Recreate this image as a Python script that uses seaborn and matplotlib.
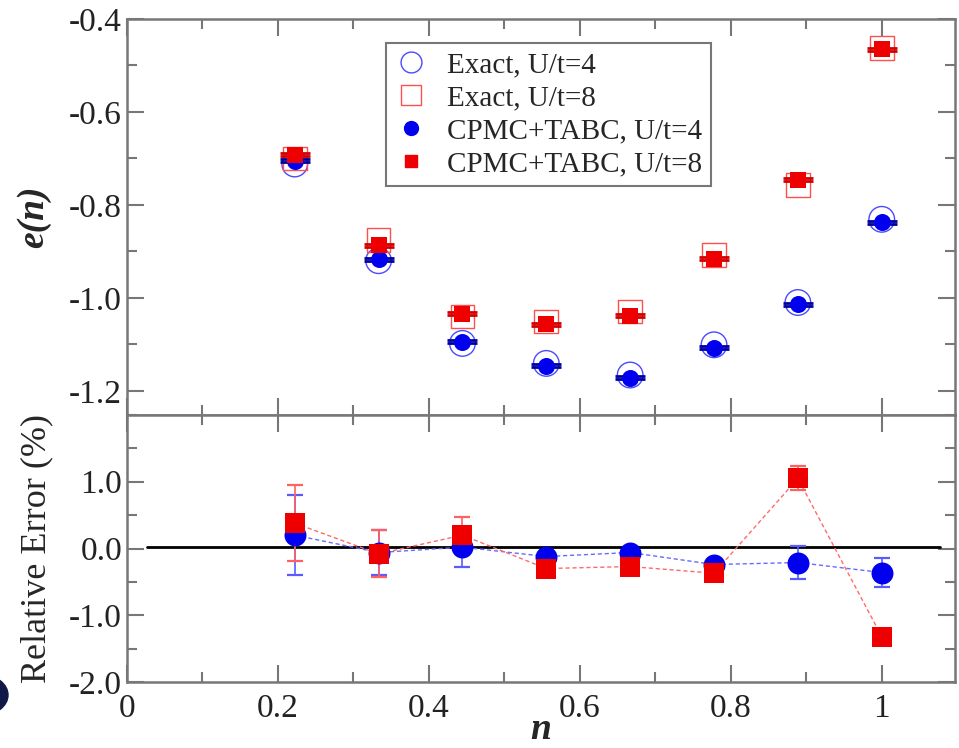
import numpy as np
import pandas as pd
import matplotlib
matplotlib.use("Agg")
import matplotlib.pyplot as plt
from matplotlib.lines import Line2D
from matplotlib.patches import Ellipse
from matplotlib.ticker import MultipleLocator
import seaborn as sns

# filling n = N/9
n = [2 / 9, 3 / 9, 4 / 9, 5 / 9, 6 / 9, 7 / 9, 8 / 9, 1.0]

# energies per site
exact_u4 = [-0.712, -0.920, -1.098, -1.141, -1.166, -1.101, -1.010, -0.831]
exact_u8 = [-0.700, -0.876, -1.040, -1.051, -1.029, -0.908, -0.757, -0.462]
cpmc_u4 = [-0.705, -0.917, -1.094, -1.146, -1.172, -1.107, -1.014, -0.837]
cpmc_u8 = [-0.692, -0.887, -1.034, -1.057, -1.038, -0.916, -0.746, -0.465]
cpmc_u4_err = [0.003, 0.003, 0.003, 0.003, 0.003, 0.003, 0.003, 0.003]
cpmc_u8_err = [0.003, 0.003, 0.003, 0.003, 0.003, 0.003, 0.003, 0.003]

# relative error (%)
rel_u4 = [0.20, -0.06, 0.02, -0.12, -0.06, -0.24, -0.21, -0.36]
rel_u4_err = [0.60, 0.34, 0.30, 0.06, 0.06, 0.06, 0.25, 0.22]
rel_u8 = [0.38, -0.08, 0.20, -0.30, -0.27, -0.37, 1.05, -1.32]
rel_u8_err = [0.57, 0.35, 0.27, 0.04, 0.04, 0.05, 0.18, 0.03]

top = pd.DataFrame({"n": n, "ex4": exact_u4, "ex8": exact_u8, "c4": cpmc_u4, "c8": cpmc_u8})
bot = pd.DataFrame({"n": n, "r4": rel_u4, "r8": rel_u8})

sns.set_theme(style="ticks")
plt.rcParams['font.family'] = ['Liberation Serif', 'DejaVu Serif']
plt.rcParams['axes.unicode_minus'] = False

BLUE = "#0000ee"
RED = "#ee0000"
SPINE = "#777777"

fig = plt.figure(figsize=(9.59, 7.48), dpi=100)
ax1 = fig.add_axes([0.1324, 0.4452, 0.8634, 0.5294])
ax2 = fig.add_axes([0.1324, 0.0882, 0.8634, 0.3570], sharex=ax1)

# ---- top panel ----
sns.scatterplot(data=top, x="n", y="ex4", ax=ax1, marker="o", s=340,
                facecolor="none", edgecolor="#4a4aff", linewidth=1.0, zorder=3)
sns.scatterplot(data=top, x="n", y="ex8", ax=ax1, marker="s", s=290,
                facecolor="none", edgecolor="#ff5050", linewidth=1.0, zorder=3)
ax1.errorbar(n, cpmc_u4, yerr=cpmc_u4_err, fmt="none", ecolor="#0000a0",
             elinewidth=1.5, capsize=11, capthick=2.0, zorder=4)
ax1.errorbar(n, cpmc_u8, yerr=cpmc_u8_err, fmt="none", ecolor="#d00000",
             elinewidth=1.5, capsize=11, capthick=2.0, zorder=4)
sns.scatterplot(data=top, x="n", y="c4", ax=ax1, marker="o", s=150,
                color=BLUE, edgecolor=BLUE, linewidth=0, zorder=5)
sns.scatterplot(data=top, x="n", y="c8", ax=ax1, marker="s", s=130,
                color=RED, edgecolor=RED, linewidth=0, zorder=5)

ax1.set_ylim(-1.252, -0.4)
yt = [-1.2, -1.0, -0.8, -0.6, -0.4]
ax1.set_yticks(yt)
ax1.set_yticklabels(["%.1f" % v for v in yt])
ax1.yaxis.set_minor_locator(MultipleLocator(0.1))
ax1.set_xlabel("")
ax1.set_ylabel("e(n)", fontsize=27, fontweight="bold", fontstyle="italic")
ax1.yaxis.set_label_coords(-0.092, 0.5)
plt.setp(ax1.get_xticklabels(), visible=False)

handles = [
    Line2D([], [], ls="none", marker="o", ms=15, mfc="none", mec="#4a4aff", mew=1.0),
    Line2D([], [], ls="none", marker="s", ms=14, mfc="none", mec="#ff5050", mew=1.0),
    Line2D([], [], ls="none", marker="o", ms=10, color=BLUE),
    Line2D([], [], ls="none", marker="s", ms=9, color=RED),
]
labels = ["Exact, U/t=4", "Exact, U/t=8", "CPMC+TABC, U/t=4", "CPMC+TABC, U/t=8"]
leg = ax1.legend(handles, labels, loc="upper left", bbox_to_anchor=(0.313, 0.939),
                 fontsize=21, frameon=True, fancybox=False, framealpha=1,
                 edgecolor=SPINE, handletextpad=0.7, labelspacing=0.23,
                 borderpad=0.3, handlelength=1.1, borderaxespad=0)
leg.get_frame().set_linewidth(1.5)

# ---- bottom panel ----
ax2.plot([0.026, 1.077], [0.03, 0.03], color="black", lw=2, zorder=2)
sns.lineplot(data=bot, x="n", y="r4", ax=ax2, color="#6a6aff", lw=1.0,
             linestyle=(0, (3, 2)), zorder=3)
sns.lineplot(data=bot, x="n", y="r8", ax=ax2, color="#ff6a6a", lw=1.0,
             linestyle=(0, (3, 2)), zorder=3)
ax2.errorbar(n, rel_u4, yerr=rel_u4_err, fmt="none", ecolor="#5a5aff",
             elinewidth=1.2, capsize=5.5, capthick=1.6, zorder=4)
ax2.errorbar(n, rel_u8, yerr=rel_u8_err, fmt="none", ecolor="#ff6060",
             elinewidth=1.2, capsize=5.5, capthick=1.6, zorder=4)
sns.scatterplot(data=bot, x="n", y="r4", ax=ax2, marker="o", s=250,
                color=BLUE, edgecolor=BLUE, linewidth=0, zorder=5)
sns.scatterplot(data=bot, x="n", y="r8", ax=ax2, marker="s", s=220,
                color=RED, edgecolor=RED, linewidth=0, zorder=6)

ax2.set_ylim(-2.0, 2.0)
ax2.set_xlim(0, 1.097)
yt2 = [-2.0, -1.0, 0.0, 1.0]
ax2.set_yticks(yt2)
ax2.set_yticklabels(["%.1f" % v for v in yt2])
ax2.yaxis.set_minor_locator(MultipleLocator(0.5))
ax2.set_ylabel("Relative Error (%)", fontsize=26)
ax2.yaxis.set_label_coords(-0.089, 0.5)

for ax in (ax1, ax2):
    for sp in ax.spines.values():
        sp.set_color(SPINE)
        sp.set_linewidth(1.8)
    ax.tick_params(which="both", direction="in", top=True, right=True,
                   color=SPINE, width=1.5, labelsize=24, labelcolor="#222222")
    ax.tick_params(which="major", length=12)
    ax.tick_params(which="minor", length=7)
    ax.xaxis.set_major_locator(MultipleLocator(0.2))
    ax.xaxis.set_minor_locator(MultipleLocator(0.1))

xt = [0, 0.2, 0.4, 0.6, 0.8, 1.0]
ax2.set_xticks(xt)
ax2.set_xticklabels(["0", "0.2", "0.4", "0.6", "0.8", "1"])
ax2.tick_params(axis="x", pad=8)
ax2.set_xlabel("n", fontsize=27, fontweight="bold", fontstyle="italic")
ax2.xaxis.label.set_va("baseline")
ax2.xaxis.set_label_coords(0.5, -(739 - 682) / 267)

# cut-off badge at the lower left edge
fig.add_artist(Ellipse((-18 / 959, 1 - 695 / 748), 52 / 959, 40 / 748,
                       transform=fig.transFigure, color="#101848", clip_on=False))

fig.savefig("out.png", dpi=100)
